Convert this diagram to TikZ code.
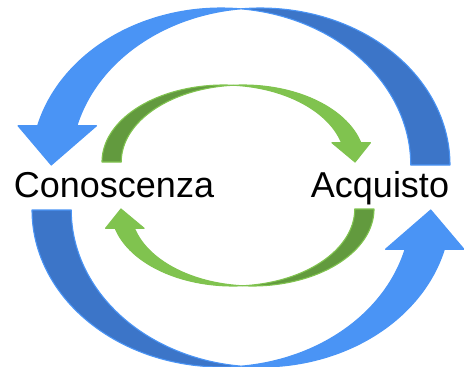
\documentclass[tikz,border=0pt]{standalone}
\usepackage{fontspec}
\setmainfont{Liberation Sans}
\definecolor{bluelt}{HTML}{4A94F5}
\definecolor{bluedk}{HTML}{3C75C8}
\definecolor{greenlt}{HTML}{80C34F}
\definecolor{greendk}{HTML}{629A3E}
\tikzset{
  lbl/.style={font=\fontsize{36}{40}\selectfont, inner sep=0pt, anchor=base, text=black},
}
% curved arrow (PowerPoint-like curvedDownArrow), local coords: top-left origin, y down
% #1 width, #2 height, #3 front colour, #4 back colour
\newcommand\crvarrow[4]{%
  \pgfmathsetmacro\CAss{min(#1,#2)}%
  \pgfmathsetmacro\CAth{\CAss*0.25}%
  \pgfmathsetmacro\CAaw{\CAss*0.5}%
  \pgfmathsetmacro\CAah{\CAss*0.25}%
  \pgfmathsetmacro\CAwR{#1/2-(\CAth+\CAaw)/4}%
  \pgfmathsetmacro\CAh{#2}%
  \pgfmathsetmacro\CAtc{acos(\CAth/(2*\CAwR))}%
  \pgfmathsetmacro\CAtcc{180-\CAtc}%
  \pgfmathsetmacro\CAtb{asin(\CAah/\CAh)}%
  \pgfmathsetmacro\CAdx{\CAwR*cos(\CAtb)}%
  \pgfmathsetmacro\CAdh{(\CAaw-\CAth)/2}%
  \filldraw[fill=#4, draw=#3, line width=1.1pt, line join=round]
    plot[domain=\CAtc:180, samples=60, variable=\t]
      ({\CAwR+\CAwR*cos(\t)}, {\CAh-\CAh*sin(\t)})
    -- ({\CAth}, {\CAh})
    -- plot[domain=180:\CAtcc, samples=60, variable=\t]
      ({\CAwR+\CAth+\CAwR*cos(\t)}, {\CAh-\CAh*sin(\t)})
    -- cycle;
  \filldraw[fill=#3, draw=#3, line width=1.1pt, line join=round]
    plot[domain=\CAtcc:\CAtb, samples=60, variable=\t]
      ({\CAwR+\CAth+\CAwR*cos(\t)}, {\CAh-\CAh*sin(\t)})
    -- ({\CAwR+\CAth+\CAdx+\CAdh}, {\CAh-\CAah})
    -- ({2*\CAwR+\CAth/2}, {\CAh})
    -- ({\CAwR+\CAdx-\CAdh}, {\CAh-\CAah})
    -- plot[domain=\CAtb:\CAtc, samples=60, variable=\t]
      ({\CAwR+\CAwR*cos(\t)}, {\CAh-\CAh*sin(\t)})
    -- cycle;
}
\begin{document}
\begin{tikzpicture}[x=1pt, y=-1pt]
  \useasboundingbox (0,0) rectangle (464,367);
  % outer blue arrows
  \begin{scope}[shift={(450,8)}, xscale=-1]
    \crvarrow{438}{157}{bluelt}{bluedk}
  \end{scope}
  \begin{scope}[shift={(32,367)}, yscale=-1]
    \crvarrow{438}{157}{bluelt}{bluedk}
  \end{scope}
  % inner green arrows
  \begin{scope}[shift={(102,85)}]
    \crvarrow{272.3}{77}{greenlt}{greendk}
  \end{scope}
  \begin{scope}[shift={(374,286)}, xscale=-1, yscale=-1]
    \crvarrow{272.3}{77}{greenlt}{greendk}
  \end{scope}
  % labels
  \node[lbl] (con) at (114,197) {Conoscenza};
  \node[lbl] (acq) at (380,197) {Acquisto};
\end{tikzpicture}
\end{document}
